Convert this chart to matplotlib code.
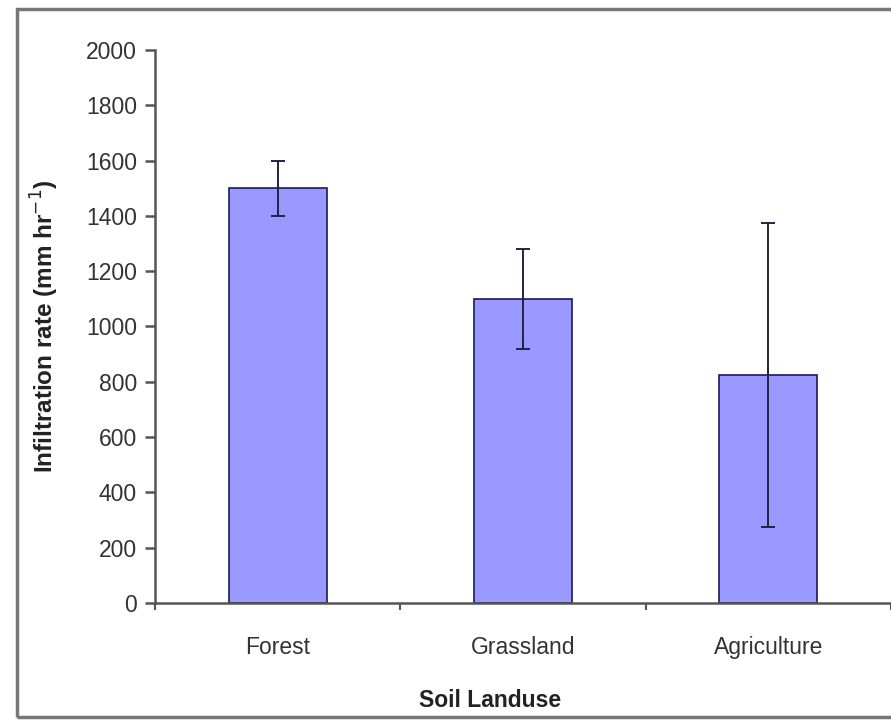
import numpy as np
import matplotlib.pyplot as plt
from matplotlib.patches import Rectangle

plt.rcParams['font.family'] = ['Liberation Sans', 'DejaVu Sans']

landuse = ['Forest', 'Grassland', 'Agriculture']
infiltration = [1500, 1100, 825]
error = [100, 180, 550]
yticks = [0, 200, 400, 600, 800, 1000, 1200, 1400, 1600, 1800, 2000]

fig = plt.figure(figsize=(8.91, 7.2), dpi=100)
ax = fig.add_axes([0.174, 0.1625, 0.826, 0.7681])

x = np.arange(len(landuse))
ax.bar(x, infiltration, width=0.4, color='#9999ff', edgecolor='#1a1a5a', linewidth=1.2,
       yerr=error, error_kw=dict(ecolor='#222244', elinewidth=1.4, capsize=5, capthick=1.4))

ax.set_xlim(-0.5, 2.5)
ax.set_ylim(0, 2000)
ax.set_yticks(yticks)
ax.set_xticks(x)
ax.set_xticklabels(landuse)
ax.set_xticks([-0.5, 0.5, 1.5, 2.5], minor=True)

ax.spines['top'].set_visible(False)
ax.spines['right'].set_visible(False)
for s in ['left', 'bottom']:
    ax.spines[s].set_color('#555555')
    ax.spines[s].set_linewidth(1.8)

ax.tick_params(axis='y', direction='out', length=7, width=1.8, color='#555555',
               labelsize=16.5, labelcolor='#333333', pad=6)
ax.tick_params(axis='x', which='major', length=0, labelsize=16.5, labelcolor='#333333', pad=24)
ax.tick_params(axis='x', which='minor', direction='out', length=5, width=1.5, color='#555555')

ax.set_ylabel('Infiltration rate (mm hr$^{-1}$)', fontsize=17.5, fontweight='bold',
              color='#222222', labelpad=18)
ax.set_xlabel('Soil Landuse', fontsize=16.5, fontweight='bold', color='#222222')
ax.xaxis.set_label_coords(0.455, -0.155)

# outer chart frame
fig.patches.append(Rectangle((17 / 891, 1 - 717 / 720), 1.2, 708 / 720, transform=fig.transFigure,
                             fill=False, edgecolor='#777777', linewidth=2.5))

fig.savefig('out.png', dpi=100)
